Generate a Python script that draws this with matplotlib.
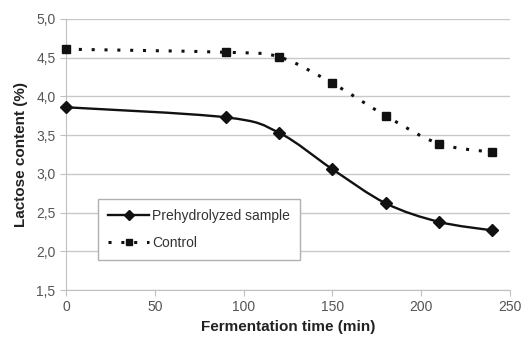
import numpy as np
import matplotlib.pyplot as plt
from matplotlib.path import Path
from matplotlib.patches import PathPatch
from matplotlib.lines import Line2D
from matplotlib.ticker import FuncFormatter

plt.rcParams['font.family'] = ['Liberation Sans', 'DejaVu Sans']

time_min = [0, 90, 120, 150, 180, 210, 240]
prehydrolyzed = [3.86, 3.73, 3.53, 3.06, 2.62, 2.38, 2.27]
control = [4.61, 4.57, 4.51, 4.17, 3.75, 3.39, 3.28]


def smooth_path(x, y):
    # Excel-like smoothed line: Catmull-Rom segments as cubic Bezier curves
    x = np.asarray(x, float)
    y = np.asarray(y, float)
    verts = [(x[0], y[0])]
    codes = [Path.MOVETO]
    n = len(x)
    for i in range(n - 1):
        i0 = max(i - 1, 0)
        i3 = min(i + 2, n - 1)
        c1 = (x[i] + (x[i + 1] - x[i0]) / 6, y[i] + (y[i + 1] - y[i0]) / 6)
        c2 = (x[i + 1] - (x[i3] - x[i]) / 6, y[i + 1] - (y[i3] - y[i]) / 6)
        verts += [c1, c2, (x[i + 1], y[i + 1])]
        codes += [Path.CURVE4] * 3
    return Path(verts, codes)


fig = plt.figure(figsize=(5.21, 3.41), dpi=100)
ax = fig.add_axes([66 / 521, 1 - 290 / 341, (510 - 66) / 521, (290 - 19) / 341])

ax.add_patch(PathPatch(smooth_path(time_min, prehydrolyzed), fill=False,
                       color='#111111', lw=1.7, clip_on=False))
ax.add_patch(PathPatch(smooth_path(time_min, control), fill=False,
                       color='#111111', lw=2.2, linestyle=(0, (1, 3.2)), clip_on=False))
ax.plot(time_min, prehydrolyzed, linestyle='none', marker='D', ms=6,
        color='#111111', clip_on=False, zorder=3)
ax.plot(time_min, control, linestyle='none', marker='s', ms=6,
        color='#111111', clip_on=False, zorder=3)

ax.set_xlim(0, 250)
ax.set_ylim(1.5, 5.0)
ax.set_xticks(np.arange(0, 251, 50))
ax.set_yticks(np.arange(1.5, 5.01, 0.5))
ax.yaxis.set_major_formatter(FuncFormatter(lambda v, p: f'{v:.1f}'.replace('.', ',')))
ax.grid(axis='y', color='#c8c8c8', lw=1)
ax.set_axisbelow(True)
for s in ['top', 'right']:
    ax.spines[s].set_visible(False)
for s in ['left', 'bottom']:
    ax.spines[s].set_color('#c0c0c0')
ax.tick_params(colors='#c0c0c0', labelcolor='#555555', labelsize=10,
               length=4, direction='out')

ax.set_xlabel('Fermentation time (min)', fontsize=11, fontweight='bold',
              color='#222222', labelpad=4)
ax.set_ylabel('Lactose content (%)', fontsize=11, fontweight='bold',
              color='#222222', labelpad=6)

handles = [
    Line2D([], [], color='#111111', lw=1.7, marker='D', ms=5),
    Line2D([], [], color='#111111', lw=2.2, linestyle=(0, (1, 3.2)), marker='s', ms=5),
]
leg = ax.legend(handles, ['Prehydrolyzed sample', 'Control'],
                loc='upper left', bbox_to_anchor=((98 - 66) / 444, (290 - 199) / 271),
                borderaxespad=0, fancybox=False, edgecolor='#b0b0b0', fontsize=10,
                handlelength=3, borderpad=0.7, labelspacing=0.95,
                handletextpad=0.2, framealpha=1)
leg.get_frame().set_linewidth(1)
for t in leg.get_texts():
    t.set_color('#333333')

fig.savefig('out.png', dpi=100)
